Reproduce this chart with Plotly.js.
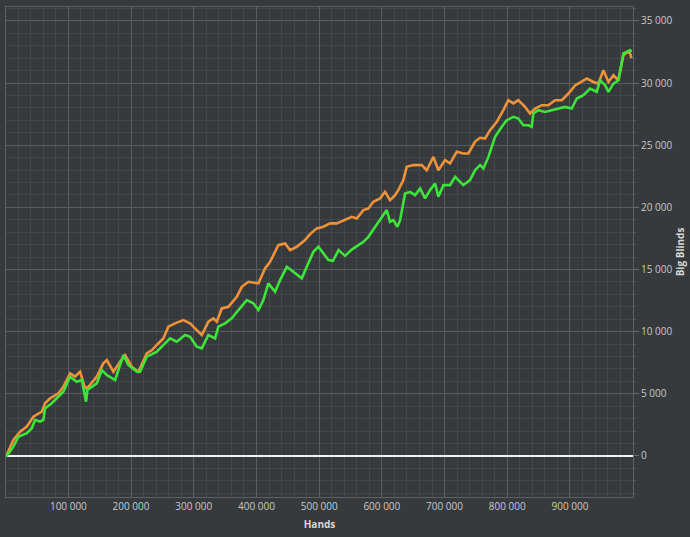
<!DOCTYPE html>
<html>
<head>
<meta charset="utf-8">
<script src="https://cdn.plot.ly/plotly-3.0.1.min.js"></script>
<style>
html,body{margin:0;padding:0;background:#373a3d;}
#chart{width:690px;height:537px;}
</style>
</head>
<body>
<div id="chart"></div>
<script>
// Hands (x) and Big Blinds (y)
var orangeHands = [0,1750,12300,23000,33700,44200,57600,62800,70800,84000,92000,102700,110700,118700,126600,131900,145300,155800,161300,171800,182500,190400,201100,211700,225000,233000,241000,251500,259500,270200,283400,294100,302000,312800,323300,331300,336700,344700,355200,368600,376600,387100,403100,413700,421700,434900,445600,453600,464300,477500,485500,496200,506700,517400,528100,538700,552000,560000,570600,578500,586500,597200,605100,613100,621100,626300,634300,639600,650300,663700,671600,682200,690200,700800,708800,719500,730000,738000,748700,756600,764600,772600,783300,793800,801800,809800,817700,828400,836400,844400,855100,865600,876300,887000,897600,908200,918900,926900,937500,945400,953400,961400,969400,977300,985300,992000,996000,998000];
var orangeBB = [0,80,1290,1950,2360,3160,3560,4240,4640,5040,5570,6650,6380,6780,5440,5570,6380,7450,7720,6780,7580,8120,7180,6780,8260,8500,8930,9460,10400,10670,10930,10670,10270,9730,10800,11070,10800,11870,12000,12810,13610,14010,13890,15090,15620,16960,17100,16560,16830,17370,17850,18310,18440,18710,18710,18970,19240,19110,19780,19910,20450,20720,21250,20580,20980,21390,22190,23260,23400,23400,22990,24060,22990,23800,23530,24480,24340,24340,25300,25600,25540,26210,26880,27820,28620,28360,28620,28080,27550,27950,28220,28220,28620,28620,29160,29810,30090,30360,30090,29960,31030,30090,30630,30230,32240,32500,32380,32000];

var greenHands = [0,1750,12300,20300,33700,41600,46900,54900,60100,62800,73500,84000,92000,102700,113400,121400,128200,130300,145300,153300,161300,174500,187700,195700,209100,214400,225000,230300,241000,254200,262200,272900,286100,294100,304800,312800,323300,334000,339300,350000,360600,371200,384600,395100,403100,411000,419000,429700,437700,448400,461600,472300,480300,490800,498800,504200,514700,522000,531000,541300,552000,562600,570600,578500,589200,597200,607800,613100,618400,624800,629100,637000,645000,653000,661000,669000,676900,684900,690200,698200,708800,716800,730000,740700,748700,756600,762000,770000,780600,791300,799200,809800,817700,825700,833700,839000,841700,849700,860300,871000,881500,892300,902900,910900,921500,932200,942800,948100,956100,961400,969400,977300,985300,996000,998000];
var greenBB = [0,0,750,1550,1830,2230,2900,2760,2900,3830,4240,4770,5170,6380,5970,6110,4370,5310,5840,6910,6510,6110,8120,7320,6780,6780,7990,8120,8390,9060,9460,9190,9730,9590,8790,8660,9730,9460,10400,10670,11070,11740,12540,12280,11740,12540,13890,13210,14150,15220,14690,14290,15220,16430,16830,16430,15760,15700,16560,16100,16600,16960,17230,17630,18440,18970,19780,18840,18970,18440,18970,21120,21250,20980,21520,20720,21390,21920,20850,21790,21790,22450,21790,22190,22990,23400,23130,24060,25670,26480,27010,27280,27150,26610,26610,26480,27550,27820,27680,27820,27950,28080,27950,28760,29020,29560,29290,30230,29830,29290,29960,30230,32380,32650,32500];

var xTicks = [100000,200000,300000,400000,500000,600000,700000,800000,900000];
var yTicks = [0,5000,10000,15000,20000,25000,30000,35000];

var traces = [
  {x: orangeHands, y: orangeBB, type: 'scatter', mode: 'lines',
   line: {color: '#f0923a', width: 2.6}, hoverinfo: 'skip'},
  {x: greenHands, y: greenBB, type: 'scatter', mode: 'lines',
   line: {color: '#3de53a', width: 2.6}, hoverinfo: 'skip'}
];

var layout = {
  width: 690, height: 537,
  margin: {l: 6, r: 57, t: 7, b: 40},
  paper_bgcolor: '#373a3d',
  plot_bgcolor: '#373a3d',
  showlegend: false,
  separators: '. ',
  font: {family: 'Open Sans, sans-serif', size: 10, color: '#c8c8c8'},
  xaxis: {
    range: [500, 1000600],
    tickvals: xTicks,
    tickformat: ',d',
    showgrid: true, gridcolor: '#5a5d60', gridwidth: 1,
    minor: {dtick: 20000, tick0: 0, showgrid: true, gridcolor: '#44474a', gridwidth: 1},
    zeroline: false,
    showline: true, linecolor: '#5e6164', mirror: true,
    ticks: '', tickfont: {size: 10, color: '#c8c8c8'},
    title: {text: '<b>Hands</b>', font: {size: 10, color: '#d8d8d8'}, standoff: 8}
  },
  yaxis: {
    side: 'right',
    range: [-3300, 36120],
    tickvals: yTicks,
    tickformat: ',d',
    showgrid: true, gridcolor: '#5a5d60', gridwidth: 1,
    minor: {dtick: 1000, tick0: 0, showgrid: true, gridcolor: '#44474a', gridwidth: 1, ticks: 'outside', ticklen: 2, tickcolor: '#55585b'},
    zeroline: true, zerolinecolor: '#f2f2f2', zerolinewidth: 2,
    showline: true, linecolor: '#5e6164', mirror: true,
    ticks: 'outside', ticklen: 5, tickcolor: '#6a6d70',
    tickfont: {size: 10, color: '#c8c8c8'},
    title: {text: '<b>Big Blinds</b>', font: {size: 10, color: '#d8d8d8'}, standoff: 5}
  }
};

Plotly.newPlot('chart', traces, layout, {staticPlot: true, displayModeBar: false});
</script>
</body>
</html>
